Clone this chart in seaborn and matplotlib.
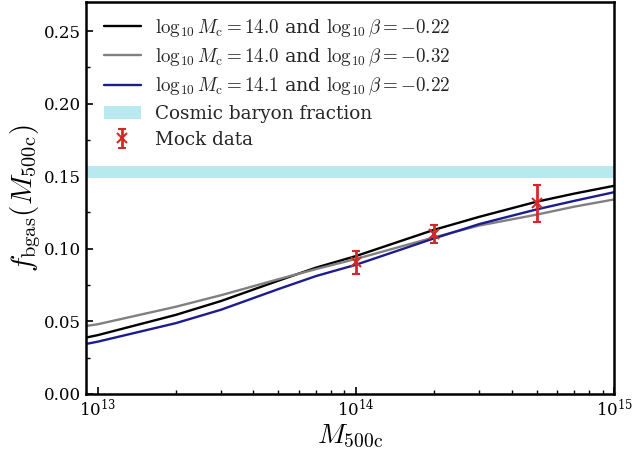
import numpy as np
import pandas as pd
import matplotlib
matplotlib.use("Agg")
import matplotlib.pyplot as plt
import seaborn as sns
from matplotlib.ticker import MultipleLocator, FormatStrFormatter

# Halo mass grid (M_500c) on which the models are evaluated
mass = [9e12, 1e13, 2e13, 3e13, 5e13, 7e13, 1e14, 2e14, 3e14, 5e14, 7e14, 1e15]

# Bound-gas fraction for each parameter choice
fgas_mc140_b022 = [0.0388, 0.0405, 0.0544, 0.0640, 0.0780, 0.0870, 0.0950, 0.1130, 0.1220, 0.1324, 0.1380, 0.1434]
fgas_mc140_b032 = [0.0468, 0.0480, 0.0600, 0.0680, 0.0790, 0.0860, 0.0930, 0.1078, 0.1160, 0.1235, 0.1290, 0.1340]
fgas_mc141_b022 = [0.0344, 0.0360, 0.0487, 0.0580, 0.0722, 0.0812, 0.0890, 0.1071, 0.1170, 0.1271, 0.1330, 0.1390]

labels = [
    r"$\log_{10}M_{\rm c}=14.0$ and $\log_{10}\beta=-0.22$",
    r"$\log_{10}M_{\rm c}=14.0$ and $\log_{10}\beta=-0.32$",
    r"$\log_{10}M_{\rm c}=14.1$ and $\log_{10}\beta=-0.22$",
]
colors = ["black", "gray", "#1c1c8f"]

# Mock measurements
mock_mass = [1e14, 2e14, 5e14]
mock_fgas = [0.0906, 0.1105, 0.1312]
mock_err = [0.0080, 0.0062, 0.0130]

# Cosmic baryon fraction band
fb_low, fb_high = 0.149, 0.157

sns.set_style("ticks")
plt.rcParams["font.family"] = ["DejaVu Serif"]
plt.rcParams["mathtext.fontset"] = "cm"

df = pd.DataFrame({
    "M500c": mass * 3,
    "fgas": fgas_mc140_b022 + fgas_mc140_b032 + fgas_mc141_b022,
    "model": [labels[0]] * len(mass) + [labels[1]] * len(mass) + [labels[2]] * len(mass),
})

fig = plt.figure(figsize=(6.33, 4.58), dpi=100)
ax = fig.add_axes([0.136, 0.140, 0.8345, 0.8556])

sns.lineplot(data=df, x="M500c", y="fgas", hue="model", hue_order=labels,
             palette=colors, linewidth=1.7, ax=ax, sort=False)

ax.axhspan(fb_low, fb_high, color="#b7e9ee", lw=0, label="Cosmic baryon fraction")
ax.errorbar(mock_mass, mock_fgas, yerr=mock_err, fmt="x", color="#d62728",
            ms=7, mew=1.5, elinewidth=2, capsize=3, capthick=2, label="Mock data")

ax.set_xscale("log")
ax.set_xlim(9e12, 1e15)
ax.set_ylim(0, 0.27)
ax.yaxis.set_major_locator(MultipleLocator(0.05))
ax.yaxis.set_minor_locator(MultipleLocator(0.025))
ax.yaxis.set_major_formatter(FormatStrFormatter("%.2f"))

ax.tick_params(which="both", direction="in", top=False, right=False,
               labelsize=12, color="black", labelcolor="black")
ax.tick_params(which="major", length=5, width=1.2)
ax.tick_params(which="minor", length=3, width=1.0)
for s in ax.spines.values():
    s.set_linewidth(1.8)
    s.set_color("black")

ax.set_xlabel(r"$M_{\rm 500c}$", fontsize=20, labelpad=2, color="black")
ax.set_ylabel(r"$f_{\rm bgas}(M_{\rm 500c})$", fontsize=21, labelpad=1, color="black")

handles, labs = ax.get_legend_handles_labels()
leg = ax.legend(handles, labs, loc="upper left", bbox_to_anchor=(0.007, 0.996),
                frameon=False, fontsize=13.2, handlelength=2.05,
                handletextpad=0.75, labelspacing=0.42, borderaxespad=0.35)
for t in leg.get_texts():
    if t.get_text().startswith("$"):
        t.set_fontsize(13.7)

fig.savefig("out.png", dpi=100)
